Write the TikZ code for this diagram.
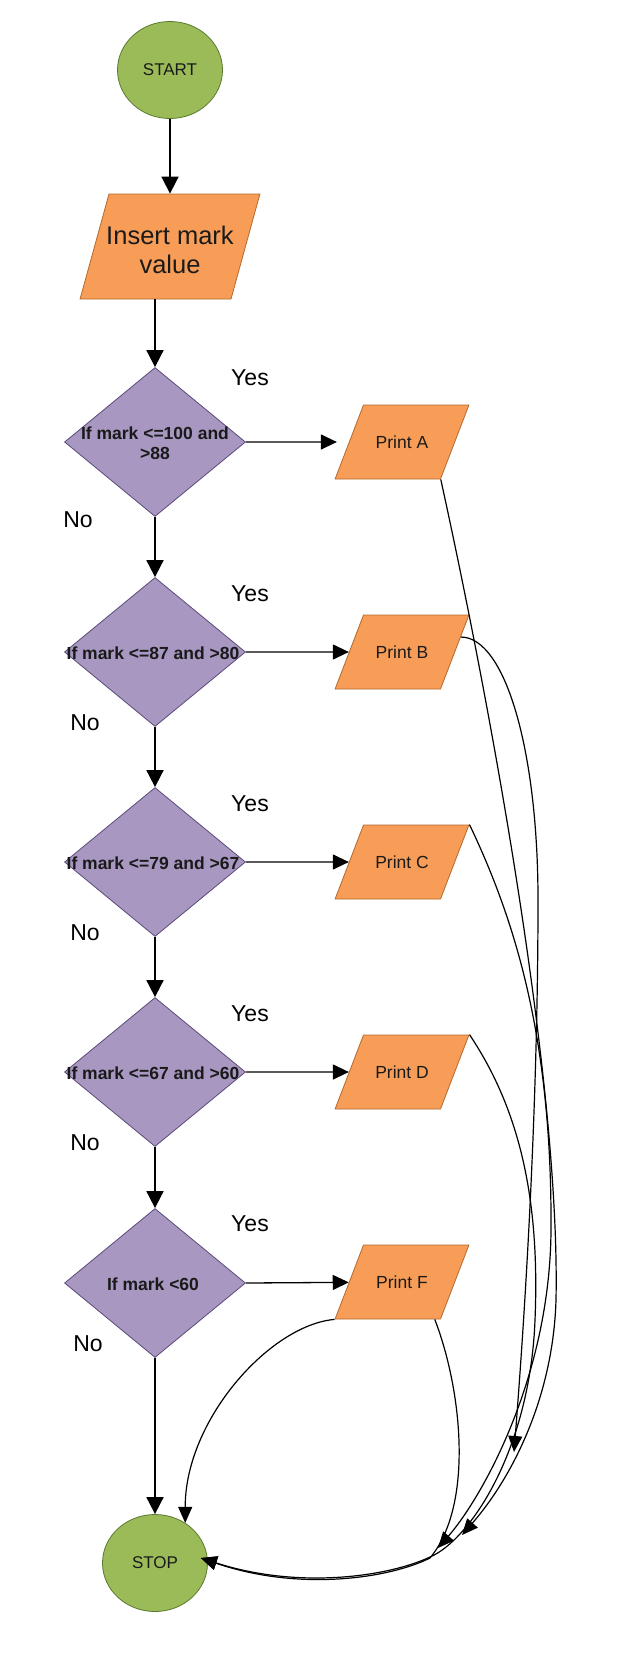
\documentclass[tikz,border=0pt]{standalone}
\usepackage{fontspec}
\setmainfont{Liberation Sans}
\usetikzlibrary{shapes.geometric,arrows.meta,calc}
\definecolor{gfill}{HTML}{9BBB59}
\definecolor{gdraw}{HTML}{5A7A30}
\definecolor{pfill}{HTML}{A797C1}
\definecolor{pdraw}{HTML}{5C4A7A}
\definecolor{ofill}{HTML}{F79D57}
\definecolor{odraw}{HTML}{B5692C}
\definecolor{txt}{HTML}{1A1A1A}
\begin{document}
\begin{tikzpicture}[x=1pt,y=-1pt,
  term/.style={ellipse, draw=gdraw, fill=gfill, line width=0.8pt, minimum width=105pt, minimum height=97pt, inner sep=0pt, font=\fontsize{17}{20}\selectfont, text=txt},
  dia/.style={diamond, draw=pdraw, fill=pfill, line width=0.8pt, minimum width=181pt, minimum height=149pt, inner sep=0pt},
  dtext/.style={font=\fontsize{17.5}{20}\selectfont\bfseries, align=center, text=txt, inner sep=0pt},
  iobox/.style={trapezium, trapezium left angle=69, trapezium right angle=111, draw=odraw, fill=ofill, line width=0.8pt, text width=77pt, text height=74pt, text depth=0pt, inner sep=0pt},
  ptext/.style={font=\fontsize{17.5}{20}\selectfont, text=txt, inner sep=0pt},
  inbox/.style={trapezium, trapezium left angle=74.6, trapezium right angle=105.4, draw=odraw, fill=ofill, line width=0.8pt, text width=122pt, text height=105pt, text depth=0pt, inner sep=0pt},
  itext/.style={font=\fontsize{25.5}{29}\selectfont, align=center, text=txt, inner sep=0pt},
  lbl/.style={font=\fontsize{23}{26}\selectfont, inner sep=0pt, text=black},
  varr/.style={draw=black, line width=1.8pt, -{Triangle[length=17pt,width=17pt]}},
  harr/.style={draw=black, line width=1.3pt, -{Triangle[length=16pt,width=15pt]}},
  carr/.style={draw=black, line width=1.2pt, -{Triangle[length=16pt,width=14pt]}}
]
\useasboundingbox (0,0) rectangle (642,1665);
\fill[white] (0,0) rectangle (642,1665);

% nodes
\node[term] (start) at (170,70) {START};
\node[inbox] (ins) at (170,246.5) {};
\node[itext] (inst) at (170,250) {Insert mark\\value};

\node[dia] (d1) at (155,442) {};
\node[dia] (d2) at (155,652) {};
\node[dia] (d3) at (155,862) {};
\node[dia] (d4) at (155,1072) {};
\node[dia] (d5) at (155,1283) {};
\node[dtext] (t1) at (155,443) {If mark <=100 and\\>88};
\node[dtext] (t2) at (153,653) {If mark <=87 and >80};
\node[dtext] (t3) at (153,863) {If mark <=79 and >67};
\node[dtext] (t4) at (153,1073) {If mark <=67 and >60};
\node[dtext] (t5) at (153,1284) {If mark <60};

\node[iobox] (pa) at (402,442) {};
\node[iobox] (pb) at (402,652) {};
\node[iobox] (pc) at (402,862) {};
\node[iobox] (pd) at (402,1072) {};
\node[iobox] (pf) at (402,1282) {};
\node[ptext] (pat) at (pa) {Print A};
\node[ptext] (pbt) at (pb) {Print B};
\node[ptext] (pct) at (pc) {Print C};
\node[ptext] (pdt) at (pd) {Print D};
\node[ptext] (pft) at (pf) {Print F};

\node[term] (stop) at (155,1563) {STOP};

\node[lbl] (y1) at (250,378) {Yes};
\node[lbl] (y2) at (250,594) {Yes};
\node[lbl] (y3) at (250,804) {Yes};
\node[lbl] (y4) at (250,1014) {Yes};
\node[lbl] (y5) at (250,1224) {Yes};
\node[lbl] (n1) at (78,520) {No};
\node[lbl] (n2) at (85,723) {No};
\node[lbl] (n3) at (85,933) {No};
\node[lbl] (n4) at (85,1143) {No};
\node[lbl] (n5) at (88,1344) {No};

% free ends of connectors
\coordinate (ea) at (462,1535);
\coordinate (eb) at (514,1452);
\coordinate (ec) at (438,1548);
\coordinate (se) at ($(stop.east)+(-7,-5)$);

% straight connectors
\draw[varr] (start) -- (ins);
\draw[varr] (d1.north |- ins.bottom side) -- (d1.north);
\draw[varr] (d1.south) -- (d2.north);
\draw[varr] (d2.south) -- (d3.north);
\draw[varr] (d3.south) -- (d4.north);
\draw[varr] (d4.south) -- (d5.north);
\draw[varr] (d5.south) -- (stop.north);
\draw[harr, shorten >=12pt] (d1.east) -- (pa);
\draw[harr] (d2.east) -- (pb);
\draw[harr] (d3.east) -- (pc);
\draw[harr] (d4.east) -- (pd);
\draw[harr] (d5.east) -- (pf);

% curved connectors
\draw[carr] (pa.bottom right corner) .. controls (500,750) and (560,1100) .. (556,1300)
  .. controls (553,1400) and (510,1480) .. (ea);
\draw[carr] ($(pb.top right corner)!0.3!(pb.bottom right corner)$) .. controls (505,637) and (538,750) .. (538,900)
  .. controls (538,1100) and (526,1300) .. (eb);
\draw[carr] (pc.top right corner) .. controls (520,930) and (552,1050) .. (551,1230)
  .. controls (550,1380) and (480,1500) .. (ec);
\draw[carr] (pd.top right corner) .. controls (520,1110) and (540,1200) .. (535,1320)
  .. controls (530,1450) and (470,1540) .. (430,1557)
  .. controls (390,1576) and (300,1590) .. (se);
\draw[carr] ($(pf.bottom right corner)+(-6,0)$) .. controls (462,1390) and (474,1505) .. (430,1558)
  .. controls (390,1578) and (300,1592) .. (se);
\draw[carr] (pf.bottom left corner) .. controls (270,1325) and (185,1420) .. (stop.53);
\end{tikzpicture}
\end{document}
